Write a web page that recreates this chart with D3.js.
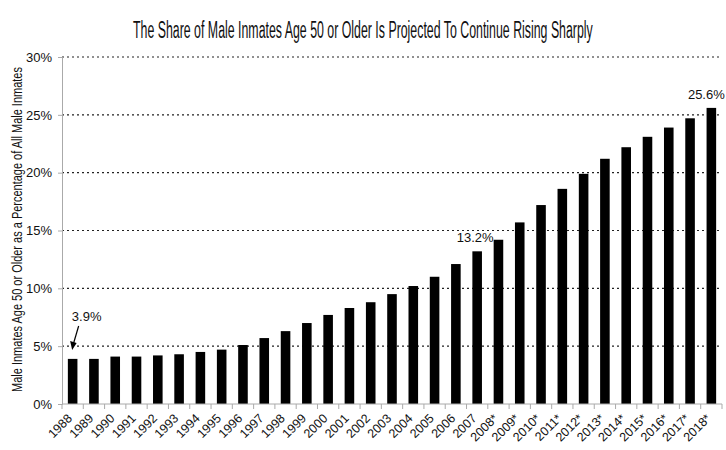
<!DOCTYPE html>
<html><head><meta charset="utf-8">
<script src="https://cdn.jsdelivr.net/npm/d3@7"></script>
<style>body{margin:0;background:#fff}svg{display:block}text{font-family:"Liberation Sans Narrow","Liberation Sans",Arial,sans-serif}</style>
</head><body><svg id="c" width="726" height="450"></svg>
<script>
const years = ["1988","1989","1990","1991","1992","1993","1994","1995","1996","1997","1998","1999","2000","2001","2002","2003","2004","2005","2006","2007","2008*","2009*","2010*","2011*","2012*","2013*","2014*","2015*","2016*","2017*","2018*"];
const shares = [3.9,3.9,4.1,4.1,4.2,4.3,4.5,4.7,5.1,5.7,6.3,7.0,7.7,8.3,8.8,9.5,10.2,11.0,12.1,13.2,14.2,15.7,17.2,18.6,19.9,21.2,22.2,23.1,23.9,24.7,25.6];
const yTicks = [0,5,10,15,20,25,30];
const labelled = [{year:"1988",text:"3.9%"},{year:"2007",text:"13.2%"},{year:"2018*",text:"25.6%"}];

const svg = d3.select("#c");
const m = {l:62, r:4, t:57, b:46};
const W = 726, H = 450;
const x = d3.scaleBand().domain(years).range([m.l, W - m.r]).paddingInner(0.55).paddingOuter(0.275);
const xb = d3.scaleBand().domain(years).range([m.l, W - m.r]);
const y = d3.scaleLinear().domain([0,30]).range([H - m.b, m.t]);

// title, condensed to match the reference width
const title = svg.append("text").attr("x",0).attr("y",0)
  .attr("font-size",23).attr("fill","#111")
  .text("The Share of Male Inmates Age 50 or Older Is Projected To Continue Rising Sharply");
const tw = title.node().getComputedTextLength();
title.attr("transform",`translate(133,37.5) scale(${460/tw},1)`);

// gridlines
svg.append("g").selectAll("line").data(yTicks.filter(d=>d>0)).join("line")
  .attr("x1",m.l).attr("x2",W - m.r).attr("y1",d=>y(d)).attr("y2",d=>y(d))
  .attr("stroke","#222").attr("stroke-width",1.2).attr("stroke-dasharray","2,3");

// y axis
const ya = svg.append("g").attr("transform",`translate(${m.l},0)`)
  .call(d3.axisLeft(y).tickValues(yTicks).tickFormat(d=>d+"%").tickSize(4).tickPadding(6));
ya.select(".domain").attr("stroke","#aaa");
ya.selectAll(".tick line").attr("stroke","#aaa");
ya.selectAll("text").attr("font-size",13).attr("fill","#111");

const yt = svg.append("text").attr("x",0).attr("y",0)
  .attr("font-size",14).attr("fill","#111")
  .text("Male Inmates Age 50 or Older as a Percentage of All Male Inmates");
const yw = yt.node().getComputedTextLength();
yt.attr("text-anchor","middle")
  .attr("transform",`translate(22,${229.5}) rotate(-90) scale(${325/yw},1)`);

// bars
svg.append("g").selectAll("rect").data(years).join("rect")
  .attr("x",d=>x(d)).attr("width",x.bandwidth())
  .attr("y",(d,i)=>y(shares[i])).attr("height",(d,i)=>y(0)-y(shares[i]))
  .attr("fill","#000");

// x axis
const xg = svg.append("g").attr("transform",`translate(0,${y(0)})`);
xg.append("line").attr("x1",m.l).attr("x2",W - m.r).attr("stroke","#aaa");
xg.selectAll("line.t").data(years.concat(["end"])).join("line").attr("class","t")
  .attr("x1",(d,i)=>m.l + i*xb.step()).attr("x2",(d,i)=>m.l + i*xb.step())
  .attr("y1",0).attr("y2",5).attr("stroke","#aaa");
xg.selectAll("text").data(years).join("text")
  .attr("transform",d=>`translate(${xb(d)+xb.bandwidth()/2-6},${9}) rotate(-45)`)
  .attr("text-anchor","end").attr("font-size",12.5).attr("fill","#111").attr("dy","0.7em")
  .text(d=>d);

// annotations
labelled.forEach(a=>{
  const i = years.indexOf(a.year);
  const cx = xb(a.year)+xb.bandwidth()/2;
  if (a.year==="1988") {
    svg.append("text").attr("x",cx+14).attr("y",321).attr("text-anchor","middle")
      .attr("font-size",13).attr("fill","#111").text(a.text);
    svg.append("line").attr("x1",cx+6).attr("y1",326).attr("x2",cx+1).attr("y2",343)
      .attr("stroke","#000").attr("stroke-width",1.2);
    svg.append("path").attr("d",`M${cx-0.5},${350} L${cx-2.5},${341} L${cx+4},${343} Z`).attr("fill","#000");
  } else {
    const last = a.year === years[years.length-1];
    svg.append("text").attr("x",last ? cx-5 : cx-2).attr("y",y(shares[i])-9).attr("text-anchor","middle")
      .attr("font-size",13).attr("fill","#111").text(a.text);
  }
});
</script></body></html>
